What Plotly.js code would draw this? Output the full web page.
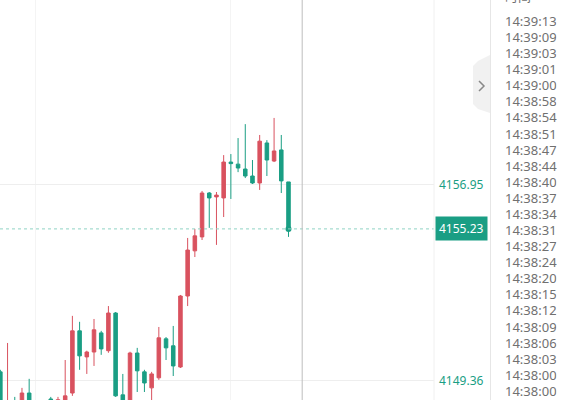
<!DOCTYPE html>
<html><head><meta charset="utf-8">
<script src="https://cdn.plot.ly/plotly-3.0.1.min.js"></script>
<style>html,body{margin:0;padding:0;background:#fff;overflow:hidden}#chart{width:579px;height:400px}</style>
</head><body><div id="chart"></div>
<script>
// ---- data ----
const candleIndex = [0,1,2,3,4,5,6,7,8,9,10,11,12,13,14,15,16,17,18,19,20,21,22,23,24,25,26,27,28,29,30,31,32,33,34,35,36,37,38,39,40];
const openPrices  = [4149.69,4147.83,4148.57,4148.41,4148.87,4148.40,4147.90,4148.64,4148.22,4148.30,4148.87,4151.28,4150.27,4150.46,4151.20,4150.51,4151.97,4148.80,4148.22,4150.42,4149.69,4149.07,4149.46,4150.97,4150.70,4149.88,4152.63,4154.38,4154.92,4156.62,4156.47,4156.43,4157.82,4157.74,4157.55,4157.28,4157.01,4158.56,4157.86,4158.29,4157.05];
const highPrices  = [4149.77,4150.81,4148.72,4149.07,4149.42,4148.45,4148.40,4148.72,4148.72,4150.15,4151.86,4151.63,4150.51,4151.74,4151.28,4152.24,4152.01,4149.61,4150.47,4150.62,4149.77,4149.69,4151.43,4151.04,4151.47,4152.67,4154.88,4155.23,4156.70,4156.66,4156.66,4158.09,4158.13,4158.75,4159.29,4157.90,4158.87,4158.67,4159.53,4158.87,4157.05];
const lowPrices   = [4148.03,4147.64,4148.14,4148.22,4148.22,4147.80,4147.70,4148.20,4148.14,4148.10,4148.76,4149.77,4149.61,4149.92,4150.35,4150.43,4148.72,4148.10,4148.00,4148.91,4148.91,4148.53,4149.38,4150.15,4149.53,4149.84,4152.24,4154.14,4154.80,4155.27,4154.61,4155.69,4156.39,4157.43,4157.20,4156.97,4156.74,4157.28,4157.82,4156.62,4154.92];
const closePrices = [4148.22,4148.53,4148.30,4148.87,4148.41,4147.95,4148.20,4148.37,4148.61,4148.76,4151.28,4150.31,4150.46,4151.32,4150.58,4151.97,4148.76,4148.30,4150.42,4149.73,4149.26,4149.61,4151.01,4150.62,4149.92,4152.63,4154.41,4154.96,4156.62,4156.43,4156.54,4157.82,4157.76,4157.59,4157.28,4157.01,4158.63,4157.90,4158.25,4157.09,4155.23];
const priceTicks = [4149.36, 4156.95];
const priceTickLabels = ["4149.36", "4156.95"];
const lastPriceLabel = "4155.23";
const tradeTimes = ["14:39:13","14:39:09","14:39:03","14:39:01","14:39:00","14:38:58","14:38:54","14:38:51","14:38:47","14:38:44","14:38:40","14:38:37","14:38:34","14:38:31","14:38:27","14:38:24","14:38:20","14:38:15","14:38:12","14:38:09","14:38:06","14:38:03","14:38:00","14:38:00","14:37:57"];
const panelHeader = "时间";

// ---- styling ----
const UP = '#d9525f', DOWN = '#1a9e84';
const W = 579, H = 400, PLOT_W = 434;
const px = v => v / PLOT_W;          // pixel -> paper x
const py = v => 1 - v / H;           // pixel -> paper y
const lastIdx = candleIndex[candleIndex.length - 1];
const lastClose = closePrices[closePrices.length - 1];

const traces = [{
  type: 'candlestick', x: candleIndex,
  open: openPrices, high: highPrices, low: lowPrices, close: closePrices,
  increasing: {line: {color: UP, width: 1}, fillcolor: UP},
  decreasing: {line: {color: DOWN, width: 1}, fillcolor: DOWN},
  hoverinfo: 'skip'
}, {
  type: 'scatter', mode: 'markers', x: [lastIdx], y: [lastClose],
  marker: {color: DOWN, size: 6}, hoverinfo: 'skip'
}];

const annotations = tradeTimes.map((t, k) => ({
  xref: 'paper', yref: 'paper', x: px(503), y: py(20.5 + k * 16.08),
  xanchor: 'left', yanchor: 'middle', showarrow: false, text: t, height: 15,
  font: {family: 'Noto Sans, sans-serif', size: 13, color: '#707070'}
}));
annotations.push({
  xref: 'paper', yref: 'paper', x: px(503), y: py(-4), xanchor: 'left', yanchor: 'middle',
  showarrow: false, text: panelHeader, height: 15,
  font: {family: 'Noto Sans CJK SC, sans-serif', size: 13, color: '#707070'}
});
annotations.push({
  xref: 'paper', yref: 'y', x: 1, y: lastClose, xanchor: 'left', yanchor: 'middle',
  xshift: 1, showarrow: false, text: lastPriceLabel, bgcolor: DOWN, borderpad: 3,
  font: {family: 'Noto Sans, sans-serif', size: 12, color: '#ffffff'}
});

const shapes = [
  {type: 'line', xref: 'paper', yref: 'y', x0: 0, x1: 1, y0: lastClose, y1: lastClose,
   line: {color: '#8fd3c4', width: 1, dash: 'dot'}},
  {type: 'line', xref: 'x', yref: 'paper', x0: 41.9, x1: 41.9, y0: 0, y1: 1,
   line: {color: '#bdbdbd', width: 1}},
  {type: 'line', xref: 'paper', yref: 'paper', x0: 1, x1: 1, y0: 0, y1: 1,
   line: {color: '#f0f0f0', width: 1}},
  {type: 'line', xref: 'paper', yref: 'paper', x0: px(490.5), x1: px(490.5), y0: 0, y1: 1,
   line: {color: '#e6e6e6', width: 1}},
  {type: 'path', xref: 'paper', yref: 'paper', layer: 'above',
   path: `M${px(490)},${py(55)} L${px(478)},${py(61)} L${px(473)},${py(66)} L${px(473)},${py(104)} L${px(478)},${py(109)} L${px(490)},${py(113)} Z`,
   fillcolor: '#f1f1f1', line: {width: 0}},
  {type: 'path', xref: 'paper', yref: 'paper', layer: 'above',
   path: `M${px(479)},${py(81)} L${px(484)},${py(86)} L${px(479)},${py(91)}`,
   line: {color: '#888888', width: 1.5}}
];

const layout = {
  width: W, height: H, margin: {l: 0, r: W - PLOT_W, t: 0, b: 0},
  paper_bgcolor: '#ffffff', plot_bgcolor: '#ffffff', showlegend: false,
  hovermode: false, dragmode: false,
  xaxis: {range: [-0.05, 60.2], rangeslider: {visible: false}, showticklabels: false,
          tickvals: [4.9, 31.95], showgrid: true, gridcolor: '#f4f4f4', zeroline: false,
          showline: false, ticks: ''},
  yaxis: {range: [4148.60, 4164.10], side: 'right', tickvals: priceTicks, ticktext: priceTickLabels,
          showgrid: true, gridcolor: '#eeeeee', zeroline: false, showline: false, ticks: '',
          tickfont: {family: 'Noto Sans, sans-serif', size: 12, color: DOWN}, ticklabelstandoff: 4},
  annotations: annotations, shapes: shapes
};

Plotly.newPlot('chart', traces, layout, {staticPlot: true, displayModeBar: false});
</script></body></html>
